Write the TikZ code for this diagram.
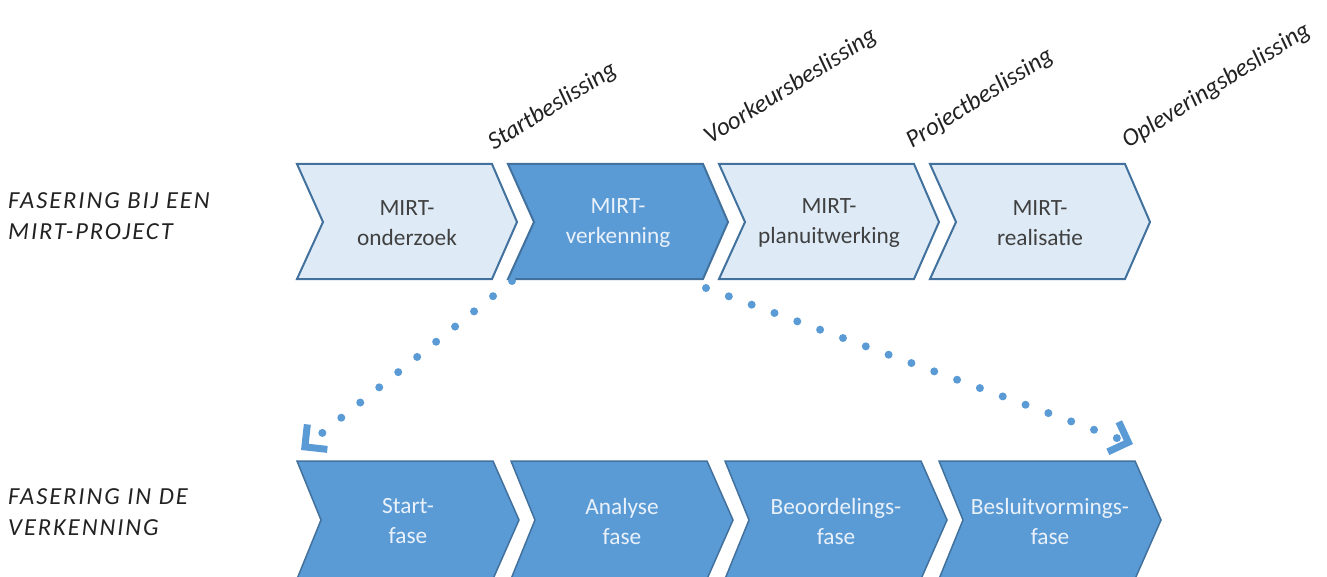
\documentclass[tikz,border=0pt]{standalone}
\usepackage{fontspec}
\setmainfont{Carlito}
\newfontfamily\sidefont[LetterSpace=8]{Carlito}
\usetikzlibrary{arrows.meta}
\definecolor{lightfill}{HTML}{DEEBF7}
\definecolor{darkfill}{HTML}{5B9BD5}
\definecolor{edgeblue}{HTML}{41719C}
\definecolor{darktext}{HTML}{404040}
\definecolor{lighttext}{HTML}{E9F1FA}
\definecolor{labeltext}{HTML}{222222}
\begin{document}
\begin{tikzpicture}[x=1pt,y=-1pt,
  chevlight/.style={fill=lightfill,draw=edgeblue,line width=2pt,line join=miter},
  chevdark/.style={fill=darkfill,draw=edgeblue,line width=2pt,line join=miter},
  chevlow/.style={fill=darkfill,draw=edgeblue,line width=1.5pt,line join=miter},
  toptxt/.style={align=center,text=darktext,font=\fontsize{23.3}{30}\selectfont,inner sep=0pt},
  toptxtdark/.style={toptxt,text=lighttext},
  lowtxt/.style={align=center,text=lighttext,font=\fontsize{23.3}{30}\selectfont,inner sep=0pt},
  sidelabel/.style={anchor=west,align=left,text=labeltext,font=\sidefont\fontsize{24.5}{31}\selectfont\itshape,inner sep=0pt},
  decision/.style={anchor=base west,rotate=32,text=labeltext,font=\fontsize{25}{28}\selectfont\itshape,inner sep=0pt},
  dotline/.style={draw=darkfill,line width=8pt,line cap=round,dash pattern=on 0pt off 24.3pt,
    -{Straight Barb[length=16pt,width=32pt,line width=7pt]}}
]
\useasboundingbox (0,0) rectangle (1327,577);

% top row chevrons
\draw[chevlight] (297,164) -- (492,164) -- (517,222) -- (492,279) -- (297,279) -- (323,222) -- cycle;
\draw[chevdark]  (508,164) -- (703,164) -- (728,222) -- (703,279) -- (508,279) -- (534,222) -- cycle;
\draw[chevlight] (719,164) -- (914,164) -- (939,222) -- (914,279) -- (719,279) -- (745,222) -- cycle;
\draw[chevlight] (930,164) -- (1125,164) -- (1150,222) -- (1125,279) -- (930,279) -- (956,222) -- cycle;

\node[toptxt]     (t1) at (407,223) {MIRT-\\onderzoek};
\node[toptxtdark] (t2) at (618,223) {MIRT-\\verkenning};
\node[toptxt]     (t3) at (829,223) {MIRT-\\planuitwerking};
\node[toptxt]     (t4) at (1040,223) {MIRT-\\realisatie};

% bottom row chevrons
\draw[chevlow] (297,461) -- (493,461) -- (519,520) -- (493,579) -- (297,579) -- (321,520) -- cycle;
\draw[chevlow] (511,461) -- (707,461) -- (733,520) -- (707,579) -- (511,579) -- (535,520) -- cycle;
\draw[chevlow] (725,461) -- (921,461) -- (947,520) -- (921,579) -- (725,579) -- (749,520) -- cycle;
\draw[chevlow] (939,461) -- (1135,461) -- (1161,520) -- (1135,579) -- (939,579) -- (963,520) -- cycle;

\node[lowtxt] (b1) at (408,521) {Start-\\fase};
\node[lowtxt] (b2) at (622,521) {Analyse\\fase};
\node[lowtxt] (b3) at (836,521) {Beoordelings-\\fase};
\node[lowtxt] (b4) at (1050,521) {Besluitvormings-\\fase};

% side labels
\node[sidelabel] (s1) at (8,216) {FASERING BIJ EEN\\MIRT-PROJECT};
\node[sidelabel] (s2) at (8,512) {FASERING IN DE\\VERKENNING};

% decision labels
\node[decision] (d1) at (494,151) {Startbeslissing};
\node[decision] (d2) at (710,145) {Voorkeursbeslissing};
\node[decision] (d3) at (912,149) {Projectbeslissing};
\node[decision] (d4) at (1128,149) {Opleveringsbeslissing};

% connectors
\coordinate (v1) at (512,281);
\coordinate (v2) at (706,288);
\coordinate (f1) at (301,450);
\coordinate (f4) at (1133,444);
\draw[dotline] (v1) -- (f1);
\draw[dotline] (v2) -- (f4);
\end{tikzpicture}
\end{document}
